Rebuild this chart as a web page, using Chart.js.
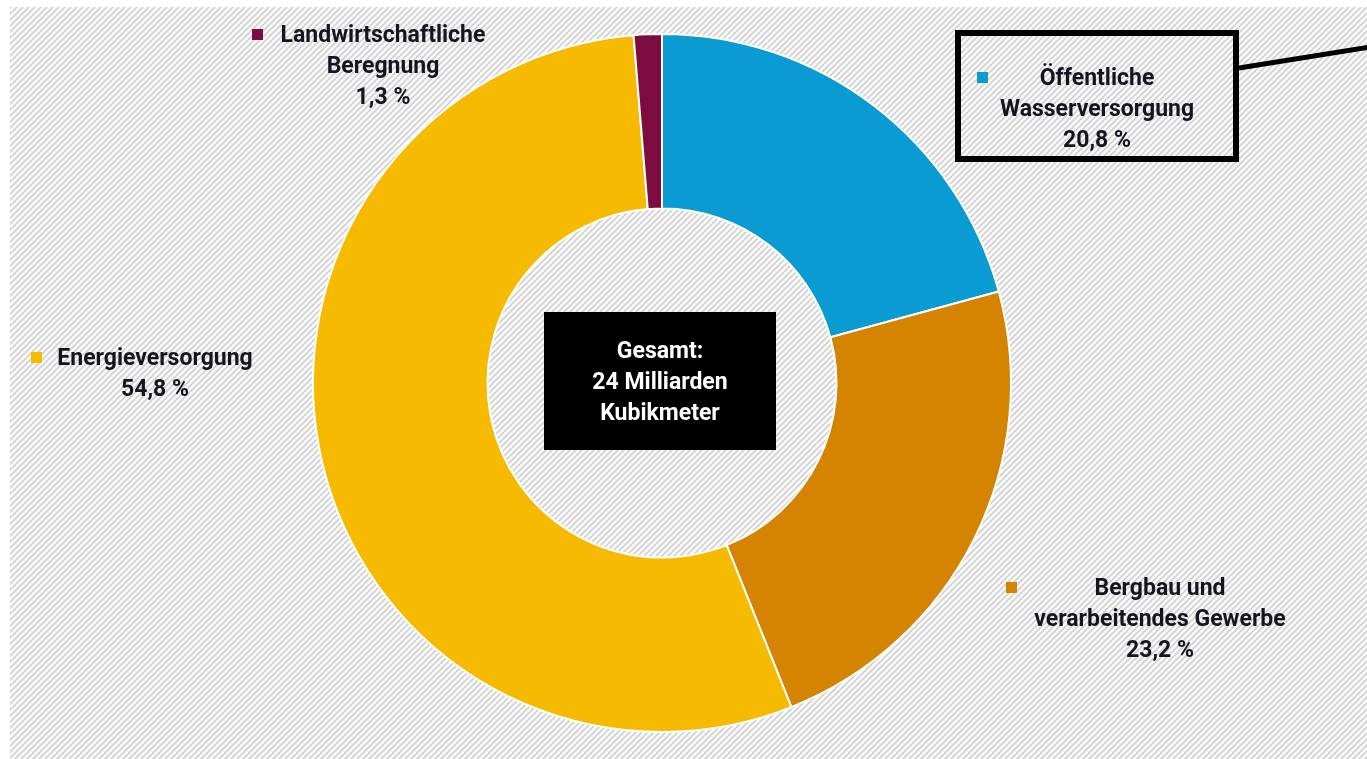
<!DOCTYPE html>
<html>
<head>
<meta charset="utf-8">
<script src="https://cdn.jsdelivr.net/npm/chart.js@4"></script>
<style>
  html, body { margin: 0; padding: 0; background: #fff; }
</style>
</head>
<body>
<canvas id="grafico" width="1367" height="759"></canvas>
<script>
var categories = [
    ['Öffentliche', 'Wasserversorgung'],
    ['Bergbau und', 'verarbeitendes Gewerbe'],
    ['Energieversorgung'],
    ['Landwirtschaftliche', 'Beregnung']
];
var anteile = [20.8, 23.2, 54.8, 1.3];
var farben = ['#0a9bd3', '#d48400', '#f6bb00', '#7c0b3f'];
var gesamt = ['Gesamt:', '24 Milliarden', 'Kubikmeter'];

// where each label block sits (center x, first line y, marker x)
var labelPos = [
    { x: 1097, y: 79, mx: 983 },
    { x: 1160, y: 589, mx: 1012 },
    { x: 155, y: 359, mx: 37 },
    { x: 383, y: 36, mx: 258 }
];

function pct(v) {
    return v.toFixed(1).replace('.', ',') + ' %';
}

function hatchPattern(c) {
    var t = document.createElement('canvas');
    t.width = 6; t.height = 6;
    var g = t.getContext('2d');
    g.fillStyle = '#fbfbfb';
    g.fillRect(0, 0, 6, 6);
    g.strokeStyle = '#d2d2d2';
    g.lineWidth = 1.8;
    g.beginPath();
    g.moveTo(-1, 7); g.lineTo(7, -1);
    g.moveTo(-4, 4); g.lineTo(4, -4);
    g.moveTo(2, 10); g.lineTo(10, 2);
    g.stroke();
    return c.createPattern(t, 'repeat');
}

var bgPlugin = {
    id: 'hatch',
    beforeDraw: function (chart) {
        var c = chart.ctx;
        c.save();
        c.fillStyle = '#fff';
        c.fillRect(0, 0, chart.width, chart.height);
        c.fillStyle = hatchPattern(c);
        c.fillRect(10, 7, chart.width - 10, chart.height - 7);
        c.restore();
    }
};

var labelPlugin = {
    id: 'labels',
    afterDraw: function (chart) {
        var c = chart.ctx;
        var arc = chart.getDatasetMeta(0).data[0];
        var cx = arc.x, cy = arc.y;
        c.save();
        c.font = 'bold 23px Roboto, "Noto Sans", sans-serif';
        c.textAlign = 'center';
        c.textBaseline = 'middle';

        // center box
        c.fillStyle = '#000';
        c.fillRect(cx - 118, cy - 71, 232, 138);
        c.fillStyle = '#fff';
        gesamt.forEach(function (t, i) {
            c.fillText(t, cx - 2, cy - 31 + i * 31);
        });

        // callout box for first category
        c.strokeStyle = '#000';
        c.lineWidth = 6;
        c.strokeRect(958, 33, 278, 126);
        c.lineWidth = 5;
        c.beginPath();
        c.moveTo(1239, 68);
        c.lineTo(1370, 47);
        c.stroke();

        categories.forEach(function (lines, i) {
            var p = labelPos[i];
            var all = lines.concat([pct(anteile[i])]);
            c.fillStyle = farben[i];
            c.fillRect(p.mx - 6, p.y - 7, 11, 11);
            c.fillStyle = '#15151f';
            all.forEach(function (t, j) {
                c.fillText(t, p.x, p.y + j * 31);
            });
        });
        c.restore();
    }
};

var ctx = document.getElementById('grafico');
var myChart = new Chart(ctx, {
    type: 'doughnut',
    data: {
        labels: categories.map(function (l) { return l.join(' '); }),
        datasets: [{
            data: anteile,
            backgroundColor: farben,
            borderColor: '#ffffff',
            borderWidth: 2
        }]
    },
    options: {
        responsive: false,
        animation: false,
        cutout: '50%',
        layout: {
            padding: { left: 312, right: 355, top: 32, bottom: 25 }
        },
        plugins: {
            legend: { display: false },
            tooltip: { enabled: false }
        }
    },
    plugins: [bgPlugin, labelPlugin]
});
</script>
</body>
</html>
